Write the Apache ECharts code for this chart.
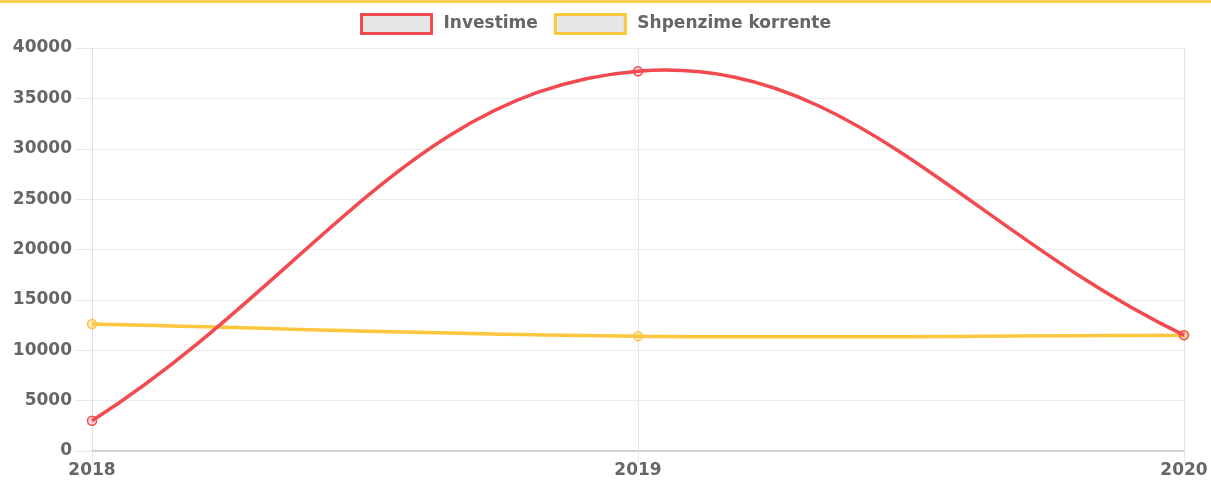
<!DOCTYPE html>
<html>
<head>
<meta charset="utf-8">
<script src="https://cdn.jsdelivr.net/npm/echarts@6/dist/echarts.min.js"></script>
<style>html,body{margin:0;padding:0;background:#fff;}#c{width:1211px;height:482px;}</style>
</head>
<body>
<div id="c"></div>
<script>
const categories = ['2018', '2019', '2020'];
const investime = [3000, 37700, 11500];
const shpenzime = [12600, 11400, 11500];
const yTicks = [0, 5000, 10000, 15000, 20000, 25000, 30000, 35000, 40000];

const RED = '#f24a4f';
const YEL = '#fcc73e';
const FONT = 'DejaVu Sans';
const TENSION = 0.4;

// Cardinal spline (tension-based) path through points given in pixel space
function splinePath(pts, area) {
  const n = pts.length;
  const cps = pts.map((p, i) => {
    const prev = i > 0 ? pts[i - 1] : p;
    const next = i < n - 1 ? pts[i + 1] : p;
    const d01 = Math.hypot(p[0] - prev[0], p[1] - prev[1]);
    const d12 = Math.hypot(next[0] - p[0], next[1] - p[1]);
    let s01 = d01 / (d01 + d12), s12 = d12 / (d01 + d12);
    if (isNaN(s01)) s01 = 0; if (isNaN(s12)) s12 = 0;
    const fa = TENSION * s01, fb = TENSION * s12;
    const clampY = y => Math.max(area.y, Math.min(area.y + area.height, y));
    const clampX = x => Math.max(area.x, Math.min(area.x + area.width, x));
    return {
      prev: [clampX(p[0] - fa * (next[0] - prev[0])), clampY(p[1] - fa * (next[1] - prev[1]))],
      next: [clampX(p[0] + fb * (next[0] - prev[0])), clampY(p[1] + fb * (next[1] - prev[1]))]
    };
  });
  let d = 'M' + pts[0][0] + ' ' + pts[0][1];
  for (let i = 1; i < n; i++) {
    const a = cps[i - 1].next, b = cps[i].prev, p = pts[i];
    d += ' C' + a[0] + ' ' + a[1] + ' ' + b[0] + ' ' + b[1] + ' ' + p[0] + ' ' + p[1];
  }
  return d;
}

function makeRender(color, width, fill) {
  return function (params, api) {
    const idx = params.dataIndexInside;
    const pt = api.coord([api.value(0), api.value(1)]);
    const children = [];
    if (idx === 0) {
      const pts = [];
      for (let i = 0; i < params.dataInsideLength; i++) {
        pts.push(api.coord([api.value(0, i), api.value(1, i)]));
      }
      const area = { x: params.coordSys.x, y: params.coordSys.y, width: params.coordSys.width, height: params.coordSys.height };
      children.push({
        type: 'path', shape: { pathData: splinePath(pts, area) },
        style: { fill: null, stroke: color, lineWidth: width, lineJoin: 'round' }, z2: 1
      });
    }
    children.push({
      type: 'circle', shape: { cx: pt[0], cy: pt[1], r: 4.5 },
      style: { fill: fill, stroke: color, lineWidth: 1.5 }, z2: 2
    });
    return { type: 'group', children: children };
  };
}

const chart = echarts.init(document.getElementById('c'));
chart.setOption({
  animation: false,
  graphic: [{ type: 'rect', shape: { x: 0, y: 0, width: 1211, height: 3 }, style: { fill: '#f6cf4c' } }],
  legend: {
    left: 355, top: 8, icon: 'rect', itemWidth: 70, itemHeight: 19, itemGap: 16,
    textStyle: { color: '#666', fontFamily: FONT, fontWeight: 'bold', fontSize: 17, padding: [0, 0, 0, 7] },
    data: [
      { name: 'Investime', itemStyle: { color: '#e6e6e6', borderColor: RED, borderWidth: 3 } },
      { name: 'Shpenzime korrente', itemStyle: { color: '#e6e6e6', borderColor: YEL, borderWidth: 3 } }
    ]
  },
  grid: { left: 92, right: 27, top: 48, bottom: 31, containLabel: false },
  xAxis: {
    type: 'category', data: categories, boundaryGap: false,
    axisLine: { show: true, lineStyle: { color: '#d0d0d0', width: 2 } },
    axisTick: { show: true, length: 12, lineStyle: { color: '#e6e6e6' } },
    splitLine: { show: true, lineStyle: { color: '#e6e6e6', width: 1 } },
    axisLabel: { color: '#666', fontFamily: FONT, fontWeight: 'bold', fontSize: 17, margin: 11 }
  },
  yAxis: {
    type: 'value', min: 0, max: 40000, interval: 5000,
    axisLine: { show: true, lineStyle: { color: '#e0e0e0', width: 1 } },
    axisTick: { show: true, length: 17, lineStyle: { color: '#e8e8e8' } },
    splitLine: { show: true, lineStyle: { color: '#ececec', width: 1 } },
    axisLabel: { color: '#666', fontFamily: FONT, fontWeight: 'bold', fontSize: 17, margin: 20,
      formatter: v => yTicks.includes(v) ? String(v) : '' }
  },
  series: [
    {
      name: 'Shpenzime korrente', type: 'custom', z: 2,
      renderItem: makeRender(YEL, 3.5, 'rgba(252,199,62,0.35)'),
      encode: { x: 0, y: 1 },
      data: categories.map((c, i) => [i, shpenzime[i]])
    },
    {
      name: 'Investime', type: 'custom', z: 3,
      renderItem: makeRender(RED, 3.5, 'rgba(242,74,79,0.2)'),
      encode: { x: 0, y: 1 },
      data: categories.map((c, i) => [i, investime[i]])
    }
  ]
});
</script>
</body>
</html>
